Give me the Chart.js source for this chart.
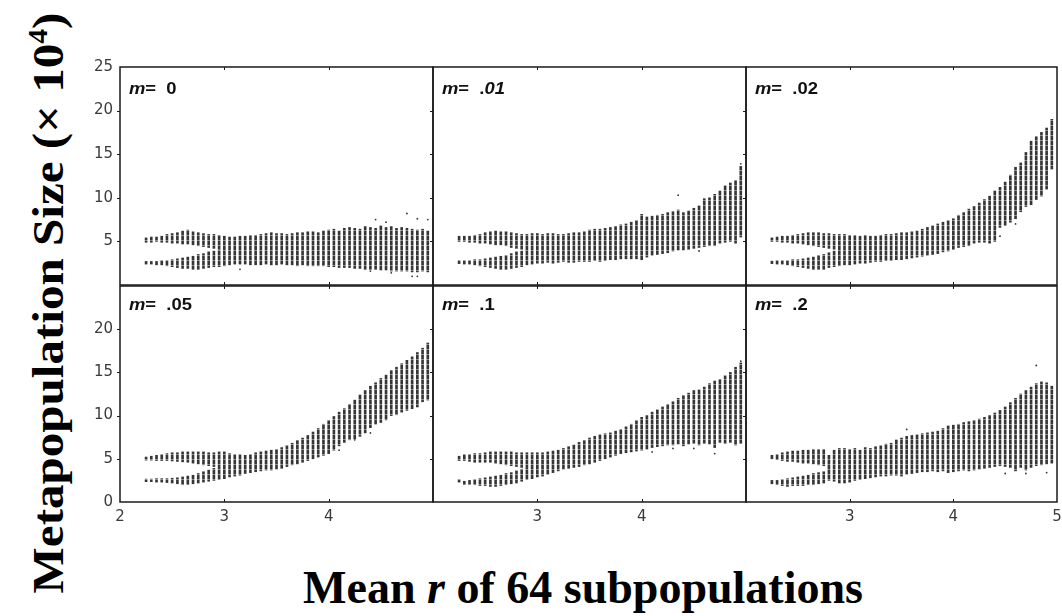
<!DOCTYPE html>
<html><head><meta charset="utf-8">
<script src="https://cdn.jsdelivr.net/npm/chart.js@4.4.0/dist/chart.umd.min.js"></script>
<style>
html,body{margin:0;padding:0;background:#fff}
body{width:1062px;height:616px;overflow:hidden;position:relative}
canvas{position:absolute}
.lab{position:absolute;font:bold 16px 'Liberation Sans',Arial,sans-serif;white-space:pre;transform:scaleX(1.15);transform-origin:0 0;color:#111;line-height:1}
.ytitle{position:absolute;left:48px;top:303px;font:bold 45px 'Liberation Serif','Times New Roman',serif;white-space:nowrap;line-height:1;transform:translate(-50%,-50%) rotate(-90deg) scaleX(1.09);color:#000}
.xtitle{position:absolute;left:583px;top:565px;font:bold 46px 'Liberation Serif','Times New Roman',serif;white-space:nowrap;line-height:1;transform:translateX(-50%);color:#000}
</style></head><body>
<div class="ytitle">Metapopulation Size (× 10<sup style="font-size:0.6em;vertical-align:0.6em">4</sup>)</div>
<div class="xtitle">Mean <i>r</i> of 64 subpopulations</div>
<script>
// ---- data ----
const rValues = [2.25,2.3,2.35,2.4,2.45,2.5,2.55,2.6,2.65,2.7,2.75,2.8,2.85,2.9,2.95,3,3.05,3.1,3.15,3.2,3.25,3.3,3.35,3.4,3.45,3.5,3.55,3.6,3.65,3.7,3.75,3.8,3.85,3.9,3.95,4,4.05,4.1,4.15,4.2,4.25,4.3,4.35,4.4,4.45,4.5,4.55,4.6,4.65,4.7,4.75,4.8,4.85,4.9,4.95];
const panelLabels = ['0','.01','.02','.05','.1','.2'];
const xTickValues = [2,3,4,5];
const yTickValues = [0,5,10,15,20,25];

// m = 0
const hi_m0 = [5.4,5.5,5.5,5.6,5.8,5.9,6.0,6.2,6.3,6.1,6.0,5.9,5.8,5.8,5.7,5.6,5.5,5.5,5.6,5.6,5.7,5.7,5.8,5.9,6.0,5.9,5.9,5.8,5.9,6.0,6.0,6.1,6.1,6.0,6.2,6.3,6.4,6.2,6.5,6.6,6.5,6.4,6.7,6.6,6.5,6.8,6.6,6.7,6.5,6.6,6.5,6.4,6.3,6.4,6.2];
const lo_m0 = [2.4,2.4,2.3,2.3,2.2,2.1,2.0,1.9,1.9,1.8,1.8,1.9,2.0,2.1,2.1,2.2,2.3,2.4,2.4,2.4,2.3,2.3,2.3,2.4,2.3,2.3,2.4,2.3,2.3,2.2,2.3,2.2,2.2,2.2,2.2,2.1,2.1,2.0,2.0,2.0,1.9,1.9,1.8,1.8,1.8,1.7,1.7,1.6,1.6,1.6,1.6,1.5,1.5,1.6,1.5];
const upLo_m0 = [4.9,4.9,5.0,4.9,4.9,4.8,4.8,4.7,4.7,4.6,4.5,4.4,4.3,4.2,4.1];
const dnHi_m0 = [2.7,2.7,2.7,2.8,2.8,2.9,3.0,3.1,3.2,3.3,3.5,3.6,3.8,3.9,4.0];
const out_m0 = [[3.15,1.8],[4.4,1.6],[4.45,7.5],[4.55,7.2],[4.6,1.4],[4.75,8.2],[4.8,1.0],[4.85,7.6],[4.85,1.0],[4.95,7.5]];

// m = .01
const hi_m01 = [5.6,5.6,5.6,5.7,5.8,6.0,6.1,6.2,6.1,6.1,6.0,5.9,5.8,5.8,5.9,5.9,5.8,5.9,5.9,5.8,5.8,5.9,6.0,6.0,6.1,6.3,6.4,6.4,6.5,6.6,6.7,6.9,7.0,7.2,7.4,8.1,7.8,7.9,8.0,8.1,8.3,8.4,8.6,8.3,8.5,8.8,9.1,9.9,10.0,10.4,10.8,11.4,11.7,12.0,13.6];
const lo_m01 = [2.45,2.4,2.4,2.3,2.2,2.1,2.0,1.9,1.8,1.8,1.9,2.0,2.1,2.3,2.4,2.5,2.5,2.6,2.5,2.6,2.7,2.6,2.6,2.7,2.7,2.7,2.8,2.7,2.8,2.9,2.9,3.0,3.0,3.0,3.0,2.9,3.2,3.4,3.5,3.6,3.7,3.9,4.0,4.0,4.1,4.2,4.3,4.4,4.5,4.5,4.8,4.9,5.0,4.8,5.5];
const upLo_m01 = [5.0,5.0,4.9,4.9,4.8,4.8,4.7,4.6,4.6,4.5,4.3,4.2,4.1];
const dnHi_m01 = [2.8,2.8,2.8,2.9,2.9,3.0,3.1,3.2,3.3,3.4,3.6,3.8,3.9];
const out_m01 = [[4.35,10.3],[4.55,3.9],[4.95,13.9]];

// m = .02
const hi_m02 = [5.4,5.5,5.6,5.6,5.7,5.8,5.9,6.0,6.0,6.0,5.9,5.9,5.8,5.8,5.8,5.7,5.7,5.6,5.7,5.6,5.6,5.7,5.8,5.8,5.9,6.0,6.0,6.1,6.2,6.4,6.6,6.8,7.0,7.2,7.4,7.6,8.0,8.3,8.7,9.0,9.4,9.8,10.2,10.8,11.2,11.8,12.6,13.5,14.0,15.2,16.5,17.0,17.5,18.0,19.0];
const lo_m02 = [2.45,2.4,2.4,2.3,2.2,2.1,2.0,1.9,1.8,1.8,1.8,2.0,2.1,2.2,2.3,2.3,2.4,2.5,2.5,2.6,2.7,2.7,2.8,2.8,2.9,2.9,3.0,3.1,3.2,3.3,3.4,3.5,3.6,3.8,3.9,4.1,4.3,4.4,4.5,4.8,4.9,4.9,4.8,5.0,6.6,6.8,7.2,7.6,8.4,9.0,9.2,9.8,10.2,11.0,13.3];
const upLo_m02 = [5.0,5.0,4.9,4.9,4.8,4.8,4.7,4.6,4.5,4.4,4.3,4.2,4.1];
const dnHi_m02 = [2.75,2.8,2.8,2.8,2.9,2.9,3.0,3.1,3.2,3.4,3.5,3.7,3.9];
const out_m02 = [[4.45,5.6],[4.6,7.0]];

// m = .05
const hi_m05 = [5.2,5.3,5.4,5.5,5.6,5.7,5.7,5.8,5.8,5.8,5.8,5.8,5.7,5.7,5.8,5.8,5.6,5.5,5.5,5.4,5.5,5.7,5.8,5.9,6.0,6.1,6.3,6.5,6.8,7.1,7.4,7.7,8.1,8.5,9.0,9.4,9.9,10.4,10.8,11.3,11.8,12.4,12.9,13.4,13.8,14.3,14.7,15.2,15.6,16.0,16.4,16.8,17.3,17.8,18.4];
const lo_m05 = [2.35,2.35,2.3,2.3,2.25,2.2,2.1,2.0,2.0,2.1,2.2,2.3,2.4,2.5,2.6,2.7,2.9,3.0,3.1,3.3,3.4,3.5,3.6,3.7,3.7,3.8,3.9,4.1,4.3,4.4,4.6,4.8,5.0,5.2,5.4,5.6,6.0,6.5,6.9,7.2,7.3,7.6,8.0,8.6,9.0,9.2,9.5,10.0,10.1,10.4,10.6,10.8,11.0,11.6,11.8];
const upLo_m05 = [4.85,4.85,4.8,4.8,4.8,4.75,4.7,4.65,4.6,4.5,4.4,4.3,4.2,4.1];
const dnHi_m05 = [2.65,2.65,2.7,2.7,2.7,2.75,2.8,2.9,3.0,3.1,3.3,3.5,3.7,3.9];
const out_m05 = [[4.1,6.0],[4.25,7.2],[4.4,8.0]];

// m = .1
const hi_m1 = [5.3,5.5,5.5,5.6,5.6,5.7,5.8,5.8,5.8,5.8,5.8,5.7,5.7,5.7,5.7,5.7,5.7,5.8,5.9,6.0,6.2,6.4,6.6,6.9,7.1,7.4,7.6,7.8,7.9,8.0,8.2,8.4,8.7,9.0,9.4,9.8,10.0,10.4,10.7,11.0,11.3,11.6,12.0,12.3,12.6,12.9,13.0,13.3,13.7,14.0,14.2,14.6,15.0,15.6,16.1];
const lo_m1 = [2.3,2.0,2.0,2.0,1.9,1.9,1.8,1.8,1.9,2.0,2.1,2.2,2.4,2.6,2.7,2.9,3.0,3.2,3.4,3.6,3.8,3.9,4.0,4.1,4.3,4.4,4.6,4.8,5.0,5.2,5.4,5.6,5.7,5.8,5.9,6.0,6.1,6.3,6.4,6.5,6.6,6.6,6.7,6.5,6.7,6.8,6.6,6.8,6.7,6.3,6.9,6.8,6.9,6.6,6.8];
const upLo_m1 = [4.8,4.8,4.7,4.6,4.6,4.6,4.6,4.5,4.4,4.3,4.2,4.1,4.0];
const dnHi_m1 = [2.6,2.4,2.5,2.6,2.7,2.8,2.9,3.0,3.1,3.3,3.4,3.6,3.8];
const out_m1 = [[4.1,5.8],[4.3,6.2],[4.5,6.2],[4.7,5.6],[4.95,16.3]];

// m = .2
const hi_m2 = [5.4,5.5,5.7,5.8,5.9,5.9,6.0,6.0,6.1,6.1,6.1,5.4,6.0,6.2,6.2,6.1,6.2,6.0,6.3,6.2,6.4,6.5,6.7,6.8,7.2,7.4,7.6,7.7,7.8,7.9,8.0,8.1,8.2,8.5,8.8,8.9,9.0,9.2,9.3,9.4,9.6,9.8,10.0,10.3,10.6,11.0,11.5,12.0,12.5,12.9,13.3,13.7,13.9,13.8,13.4];
const lo_m2 = [2.1,2.0,1.9,1.8,1.9,1.9,1.9,2.0,2.0,2.1,2.2,2.5,2.4,2.2,2.2,2.3,2.5,2.6,2.7,2.8,2.9,3.0,3.0,3.1,3.1,3.0,3.2,3.3,3.4,3.5,3.5,3.6,3.5,3.6,3.4,3.5,3.6,3.7,3.6,3.7,3.8,3.9,4.0,4.1,4.2,4.1,4.0,3.6,4.0,3.7,4.0,4.2,4.3,4.4,4.5];
const upLo_m2 = [5.0,4.9,4.8,4.7,4.7,4.6,4.5,4.5,4.4,4.3,4.2];
const dnHi_m2 = [2.5,2.5,2.6,2.7,2.8,2.9,3.0,3.1,3.3,3.4,3.5];
const out_m2 = [[3.55,8.4],[4.5,3.3],[4.7,3.3],[4.8,15.8],[4.9,3.4]];

// ---- layout ----
const colLeft = [120, 433, 746], colWidth = [313, 313, 311];
const rowTop = [66, 285], rowHeight = [219, 217];
const PADL = 50, PADT = 15, PADR = 15, PADB = 30;

Chart.defaults.font.family = "'Liberation Sans', Arial, sans-serif";

// dotted vertical texture like the printed point columns
function makeBarFill() {
  const p = document.createElement('canvas');
  p.width = 2; p.height = 5;
  const c = p.getContext('2d');
  c.fillStyle = '#363636'; c.fillRect(0, 0, 2, 5);
  c.fillStyle = '#8a8a8a'; c.fillRect(0, 4, 2, 1);
  return c.createPattern(p, 'repeat');
}
const BAR = makeBarFill();
const DOT = '#333';

const series = [
  [hi_m0, lo_m0, upLo_m0, dnHi_m0, out_m0],
  [hi_m01, lo_m01, upLo_m01, dnHi_m01, out_m01],
  [hi_m02, lo_m02, upLo_m02, dnHi_m02, out_m02],
  [hi_m05, lo_m05, upLo_m05, dnHi_m05, out_m05],
  [hi_m1, lo_m1, upLo_m1, dnHi_m1, out_m1],
  [hi_m2, lo_m2, upLo_m2, dnHi_m2, out_m2]
];

const boxPlugin = {
  id: 'box',
  afterDraw(chart) {
    const {ctx, chartArea: a, scales: {x, y}} = chart;
    ctx.save();
    ctx.strokeStyle = '#1a1a1a';
    ctx.lineWidth = 1.5;
    ctx.strokeRect(a.left, a.top, a.right - a.left, a.bottom - a.top);
    ctx.lineWidth = 1;
    ctx.beginPath();
    xTickValues.slice(1, 3).forEach(v => {
      const px = Math.round(x.getPixelForValue(v)) + 0.5;
      ctx.moveTo(px, a.bottom); ctx.lineTo(px, a.bottom - 3);
      ctx.moveTo(px, a.top); ctx.lineTo(px, a.top + 3);
    });
    yTickValues.slice(1, 5).forEach(v => {
      const py = Math.round(y.getPixelForValue(v)) + 0.5;
      ctx.moveTo(a.left, py); ctx.lineTo(a.left - 3, py);
    });
    ctx.stroke();
    ctx.restore();
  }
};

series.forEach((s, idx) => {
  const [hi, lo, upLo, dnHi, out] = s;
  const row = Math.floor(idx / 3), col = idx % 3;
  const lower = [], upper = [];
  rValues.forEach((r, i) => {
    const split = i < upLo.length;
    lower.push({x: r, y: [lo[i], split ? dnHi[i] : hi[i]]});
    if (split) upper.push({x: r, y: [upLo[i], hi[i]]});
  });
  const cv = document.createElement('canvas');
  const W = colWidth[col] + PADL + PADR, H = rowHeight[row] + PADT + PADB;
  cv.width = W; cv.height = H;
  cv.style.left = (colLeft[col] - PADL) + 'px';
  cv.style.top = (rowTop[row] - PADT) + 'px';
  cv.style.width = W + 'px'; cv.style.height = H + 'px';
  document.body.appendChild(cv);

  const lab = document.createElement('div');
  lab.className = 'lab';
  lab.innerHTML = '<i>m</i>=  ' + (idx === 1 ? '.<i>01</i>' : panelLabels[idx]);
  lab.style.left = (colLeft[col] + 9) + 'px';
  lab.style.top = (rowTop[row] + (row === 0 ? 15 : 12)) + 'px';
  document.body.appendChild(lab);

  const tickFont = {size: 15, family: "'DejaVu Sans', sans-serif"};
  new Chart(cv, {
    type: 'bar',
    data: {datasets: [
      {data: lower, backgroundColor: BAR, borderWidth: 0, barThickness: 2, grouped: false},
      {data: upper, backgroundColor: BAR, borderWidth: 0, barThickness: 2, grouped: false},
      {type: 'scatter', data: out.map(p => ({x: p[0], y: p[1]})), pointRadius: 0.9, backgroundColor: DOT, borderWidth: 0}
    ]},
    options: {
      responsive: false, animation: false, devicePixelRatio: 1,
      layout: {padding: {top: PADT, right: PADR, left: 0, bottom: 0}},
      plugins: {legend: {display: false}, tooltip: {enabled: false}},
      scales: {
        x: {
          type: 'linear', min: 2, max: 5, offset: false,
          grid: {display: false, drawTicks: false}, border: {display: false},
          ticks: {
            stepSize: 1, padding: 6, color: '#3a3a3a', font: tickFont, maxRotation: 0, autoSkip: false,
            callback: v => {
              if (row === 0) return '';
              if (col === 0) return v < 5 ? String(v) : '';
              if (col === 1) return (v > 2 && v < 5) ? String(v) : '';
              return v > 2 ? String(v) : '';
            }
          },
          afterFit: sc => { sc.height = PADB; }
        },
        y: {
          min: 0, max: 25,
          grid: {display: false, drawTicks: false}, border: {display: false},
          ticks: {
            stepSize: 5, padding: 7, color: '#3a3a3a', font: tickFont,
            callback: v => {
              if (col !== 0) return '';
              if (row === 0) return v > 0 ? String(v) : '';
              return v < 25 ? String(v) : '';
            }
          },
          afterFit: sc => { sc.width = PADL; }
        }
      }
    },
    plugins: [boxPlugin]
  });
});
</script>
</body></html>
